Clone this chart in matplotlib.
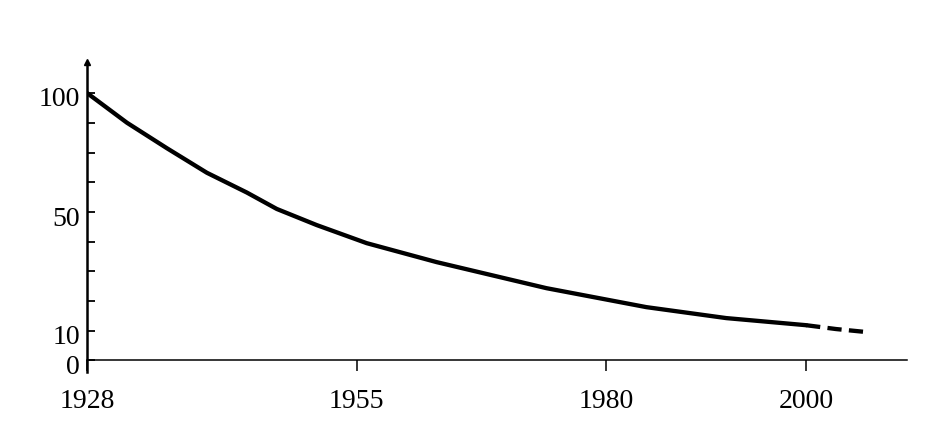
import numpy as np
import matplotlib
matplotlib.use("Agg")
import matplotlib.pyplot as plt
import matplotlib.transforms as mtransforms

# Data
years = [1928, 1932, 1936, 1940, 1944, 1947, 1951, 1956, 1963, 1974, 1984, 1992, 2000]
values = [100, 87.5, 76.8, 66.5, 58.2, 51.3, 45.6, 39.5, 33.1, 24.3, 17.9, 14.2, 11.8]
proj_years = [2000, 2003, 2006]
proj_values = [11.8, 10.5, 9.5]

x_ticks = [1928, 1955, 1980, 2000]
y_ticks = [0, 10, 50, 100]
y_minor = [20, 30, 40, 62.5, 75, 87.5]

# the y axis is drawn with a squeezed upper half (50..100)
v_pts = np.array([-20, 0, 50, 100, 150])
p_pts = np.array([-59.2, 0, 148, 267, 386])


def fwd(v):
    return np.interp(v, v_pts, p_pts)


def inv(p):
    return np.interp(p, p_pts, v_pts)


plt.rcParams['font.family'] = ['Liberation Serif', 'DejaVu Serif']

fig = plt.figure(figsize=(9.45, 4.36), dpi=100)
ax = fig.add_axes([87 / 945, 1 - 372 / 436, 820 / 945, 310 / 436])
ax.set_yscale('function', functions=(fwd, inv))

ax.plot(years, values, color='black', lw=3.1, solid_capstyle='round', solid_joinstyle='round')
ax.plot(proj_years, proj_values, color='black', lw=3.1, linestyle=(0, (3.3, 1.7)))

ax.set_xlim(1928, 2010.1)
ax.set_ylim(-4, 113)

ax.spines['top'].set_visible(False)
ax.spines['right'].set_visible(False)
ax.spines['bottom'].set_position(('data', 0))
ax.spines['bottom'].set_linewidth(1.1)
ax.spines['left'].set_linewidth(1.8)

ax.set_xticks(x_ticks)
ax.set_xticklabels([str(y) for y in x_ticks])
ax.set_yticks(y_ticks)
ax.set_yticklabels([str(v) for v in y_ticks])
ax.set_yticks(y_minor, minor=True)

ax.tick_params(axis='x', direction='out', length=8, width=1.1, pad=13, labelsize=20)
ax.tick_params(axis='y', which='both', direction='in', length=6, width=1.3, pad=5, labelsize=20)
ax.tick_params(axis='y', which='minor', labelleft=False)

# y labels sit a little below their ticks in the original
shift = mtransforms.ScaledTranslation(0, -4 / 100, fig.dpi_scale_trans)
for lab in ax.get_yticklabels():
    lab.set_transform(lab.get_transform() + shift)

# small head on top of the y axis
ax.plot([1928], [113], marker='^', color='black', markersize=5, clip_on=False)

fig.savefig('out.png', dpi=100)
